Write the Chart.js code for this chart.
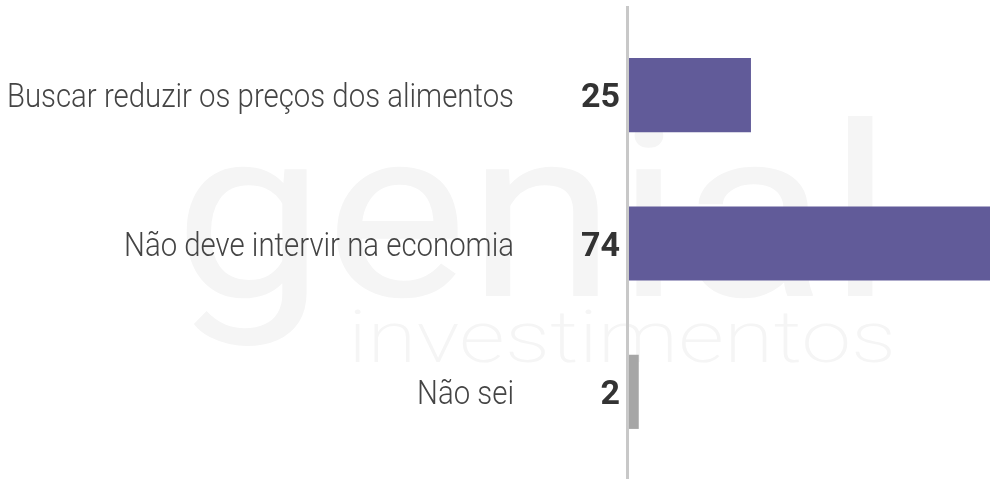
<!DOCTYPE html>
<html>
<head>
<meta charset="utf-8">
<script src="https://cdn.jsdelivr.net/npm/chart.js@4"></script>
<style>
  html, body { margin: 0; padding: 0; background: #fff; }
  #wrap { width: 990px; height: 479px; }
</style>
</head>
<body>
<div id="wrap"><canvas id="chart"></canvas></div>
<script>
const categories = ['Buscar reduzir os preços dos alimentos', 'Não deve intervir na economia', 'Não sei'];
const values = [25, 74, 2];
const barColors = ['#615b99', '#615b99', '#a6a6a6'];

// draw text squeezed/stretched to a given width factor, right or left anchored
function drawText(ctx, text, x, y, sx, align) {
    ctx.save();
    ctx.translate(x, y);
    ctx.scale(sx, 1);
    ctx.textAlign = align;
    ctx.fillText(text, 0, 0);
    ctx.restore();
}

// faint logo in the background, labels and axis line
const decor = {
    id: 'decor',
    beforeDatasetsDraw(chart) {
        const ctx = chart.ctx;
        ctx.save();
        ctx.fillStyle = '#f5f5f5';
        ctx.textBaseline = 'alphabetic';
        ctx.font = '400 240px Roboto';
        drawText(ctx, 'genial', 174, 296, 1.12, 'left');
        ctx.font = '200 72px Roboto';
        drawText(ctx, 'investimentos', 348, 362, 1.25, 'left');
        ctx.fillStyle = '#c8c8c8';
        ctx.fillRect(626, 6, 3, 473);
        ctx.restore();
    },
    afterDatasetsDraw(chart) {
        const ctx = chart.ctx;
        const y = chart.scales.y;
        ctx.save();
        ctx.textBaseline = 'alphabetic';
        categories.forEach((c, i) => {
            const py = y.getPixelForValue(i);
            ctx.fillStyle = '#444';
            ctx.font = '300 33px Roboto';
            drawText(ctx, c, 514, py + 12, 0.89, 'right');
            ctx.fillStyle = '#333';
            ctx.font = 'bold 34px Roboto';
            drawText(ctx, values[i], 620, py + 12, 1.0, 'right');
        });
        ctx.restore();
    }
};

new Chart(document.getElementById('chart'), {
    type: 'bar',
    data: {
        labels: categories,
        datasets: [{
            data: values,
            backgroundColor: barColors,
            barPercentage: 0.5,
            categoryPercentage: 1
        }]
    },
    options: {
        indexAxis: 'y',
        responsive: true,
        maintainAspectRatio: false,
        animation: false,
        layout: { padding: { top: 21, bottom: 13, left: 0, right: 0 } },
        plugins: { legend: { display: false }, tooltip: { enabled: false } },
        scales: {
            x: { display: false, min: 0, max: 74 },
            y: {
                ticks: { display: false },
                grid: { display: false },
                border: { display: false },
                afterFit(scale) { scale.width = 629; }
            }
        }
    },
    plugins: [decor]
});
</script>
</body>
</html>
